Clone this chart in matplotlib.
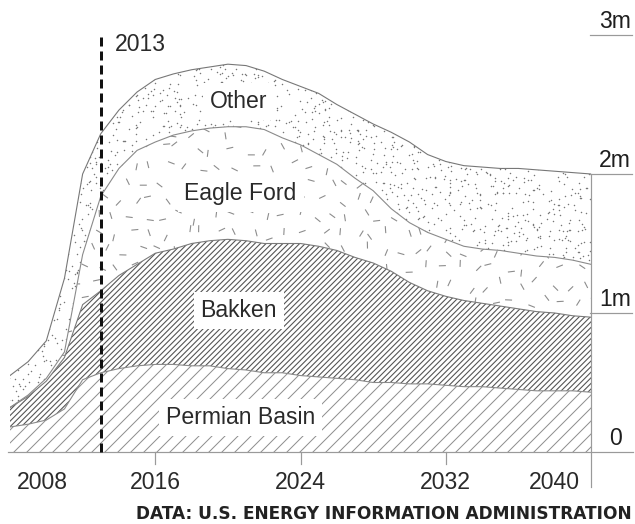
import numpy as np
import matplotlib
matplotlib.use("Agg")
import matplotlib.pyplot as plt
from matplotlib.transforms import blended_transform_factory
from matplotlib.collections import LineCollection

# ---------------- data ----------------
years = list(range(2008, 2041))
permian = [.18, .20, .23, .31, .52, .57, .60, .62, .63, .63, .62, .62, .60, .59, .57, .57, .55,
           .54, .53, .52, .50, .50, .49, .49, .48, .47, .47, .46, .45, .44, .44, .44, .43]
bakken = [.14, .20, .28, .37, .54, .59, .67, .73, .80, .83, .88, .90, .93, .93, .93, .93, .95,
          .94, .92, .88, .86, .80, .73, .67, .64, .62, .60, .59, .58, .57, .56, .54, .54]
eagle_ford = [.00, .01, .02, .04, .36, .68, .77, .82, .80, .82, .81, .81, .81, .82, .82, .76, .71,
              .66, .62, .57, .52, .45, .43, .42, .41, .39, .39, .40, .40, .40, .40, .40, .38]
other = [.23, .24, .27, .53, .58, .45, .42, .42, .45, .44, .44, .44, .45, .44, .42, .42, .42,
         .44, .43, .46, .48, .55, .58, .56, .56, .58, .59, .59, .61, .62, .62, .63, .65]
series_names = ["Permian Basin", "Bakken", "Eagle Ford", "Other"]
x_tick_years = [2008, 2016, 2024, 2032, 2040]
x_tick_labels = ["2008", "2016", "2024", "2032", "2040"]
y_tick_values = [0, 1, 2, 3]
y_tick_labels = ["0", "1m", "2m", "3m"]
marker_year = 2013
marker_label = "2013"
source_text = "DATA: U.S. ENERGY INFORMATION ADMINISTRATION"

# ---------------- layout ----------------
W, H, DPI = 635, 524, 75
def pt(px):
    return px * 72.0 / DPI

plt.rcParams["font.family"] = ["Liberation Sans", "DejaVu Sans"]
plt.rcParams["lines.scale_dashes"] = False

fig = plt.figure(figsize=(W / DPI, H / DPI), dpi=DPI)
fig.patch.set_facecolor("white")
X0, X1, Y0, Y3 = 10, 591, 452, 35
ax = fig.add_axes([X0 / W, (H - Y0) / H, (X1 - X0) / W, (Y0 - Y3) / H])
ax.set_xlim(2008, 2040)
ax.set_ylim(0, 3)
ax.axis("off")
px_per_year = (X1 - X0) / 32.0
px_per_m = (Y0 - Y3) / 3.0

def to_data(px, py):
    return (2008 + (px - X0) / px_per_year, (Y0 - py) / px_per_m)

yrs = np.array(years, dtype=float)
layers = [np.array(permian), np.array(bakken), np.array(eagle_ford), np.array(other)]
cum = np.cumsum(layers, axis=0)
bottoms = [np.zeros_like(yrs)] + [cum[i] for i in range(3)]

polys = []
for k in range(4):
    p = ax.fill_between(yrs, bottoms[k], cum[k], facecolor="white", edgecolor="white",
                        linewidth=0, zorder=1)
    polys.append(p)

def frac(v):
    return v - np.floor(v)

def diag_hatch(poly, spacing, color, lw):
    segs = []
    c = -500.0
    while c < 700:
        segs.append([to_data(c, Y0 + 20), to_data(c + 520, Y0 + 20 - 520)])
        c += spacing
    lc = LineCollection(segs, colors=color, linewidths=pt(lw), zorder=2)
    ax.add_collection(lc)
    lc.set_clip_path(poly.get_paths()[0], ax.transData)

# Permian: sparse diagonal hatch; Bakken: dense diagonal hatch
diag_hatch(polys[0], 13.0, "#8e8e8e", 1.0)
diag_hatch(polys[1], 5.6, "#555555", 1.1)

# Eagle Ford: scattered short dashes (deterministic texture)
segs = []
step = 17
for j, ypx in enumerate(np.arange(30, 455, step)):
    for i, xpx in enumerate(np.arange(0, 600, step)):
        h1 = frac(np.sin(i * 12.9898 + j * 78.233) * 43758.5453)
        h2 = frac(np.sin(i * 39.346 + j * 11.135) * 24634.6345)
        h3 = frac(np.sin(i * 73.156 + j * 52.235) * 13275.1234)
        cx = xpx + (j % 2) * step / 2 + (h1 - 0.5) * step * 0.7
        cy = ypx + (h2 - 0.5) * step * 0.7
        a = h3 * np.pi
        L = 3.5
        segs.append([to_data(cx - L * np.cos(a), cy - L * np.sin(a)),
                     to_data(cx + L * np.cos(a), cy + L * np.sin(a))])
lc = LineCollection(segs, colors="#8c8c8c", linewidths=pt(1.1), zorder=2)
ax.add_collection(lc)
lc.set_clip_path(polys[2].get_paths()[0], ax.transData)

# Other: random-looking stipple (deterministic)
dx_, dy_ = [], []
st = 5.2
for j, ypx in enumerate(np.arange(30, 455, st)):
    for i, xpx in enumerate(np.arange(0, 600, st)):
        h1 = frac(np.sin(i * 91.7 + j * 17.31) * 43758.5453)
        h2 = frac(np.sin(i * 27.13 + j * 61.77) * 24634.6345)
        h3 = frac(np.sin(i * 5.71 + j * 33.9) * 9631.17)
        if h3 < 0.45:
            continue
        px_, py_ = to_data(xpx + (h1 - 0.5) * st * 1.6, ypx + (h2 - 0.5) * st * 1.6)
        dx_.append(px_)
        dy_.append(py_)
sc = ax.scatter(dx_, dy_, s=pt(1.5) ** 2, color="#777777", linewidths=0, zorder=2)
sc.set_clip_path(polys[3].get_paths()[0], ax.transData)

# boundaries
for k, c in enumerate(["#8a8a8a", "#7a7a7a", "#8a8a8a", "#777777"]):
    ax.plot(yrs, cum[k], color=c, lw=pt(1.1), zorder=3)

# labels inside areas
label_pos = {"Other": (2020.6, 2.475), "Eagle Ford": (2020.7, 1.813),
             "Bakken": (2020.6, 0.971), "Permian Basin": (2020.7, 0.201)}
for name in series_names[::-1]:
    x, y = label_pos[name]
    ax.text(x, y, name, ha="center", va="baseline", fontsize=pt(23), color="#2a2a2a", zorder=5,
            bbox=dict(boxstyle="square,pad=0.3", facecolor="white", edgecolor="none"))

# 2013 dashed marker
ax.plot([marker_year, marker_year], [0, (Y0 - 32) / px_per_m], color="#111111", lw=pt(3),
        dashes=(pt(9), pt(5)), zorder=6, clip_on=False)
ax.annotate(marker_label, xy=(marker_year, (Y0 - 51) / px_per_m), xytext=(pt(14), 0),
            textcoords="offset points", ha="left", va="baseline", fontsize=pt(23),
            color="#2a2a2a", annotation_clip=False)

# axis lines
trans_fx = blended_transform_factory(fig.transFigure, ax.transData)
ax.plot([8 / W, 633 / W], [0, 0], color="#9a9a9a", lw=pt(1.2), transform=trans_fx,
        clip_on=False, zorder=4)
for v in y_tick_values[1:]:
    ax.plot([590 / W, 632 / W], [v, v], color="#9a9a9a", lw=pt(1.2), transform=trans_fx,
            clip_on=False, zorder=4)
ax.plot([2040, 2040], [2.0, -(487 - Y0) / px_per_m], color="#9a9a9a", lw=pt(1.2),
        clip_on=False, zorder=4)
for yr in x_tick_years[1:-1]:
    ax.plot([yr, yr], [0, -12 / px_per_m], color="#9a9a9a", lw=pt(1.2), clip_on=False, zorder=4)

# y labels (right)
for v, lab in zip(y_tick_values, y_tick_labels):
    xr = 622 if lab == "0" else 631
    ax.text(xr / W, v + 7 / px_per_m, lab, transform=trans_fx, ha="right", va="baseline",
            fontsize=pt(23), color="#1e1e1e")

# x labels
for yr, lab in zip(x_tick_years, x_tick_labels):
    if yr == x_tick_years[0]:
        ha, dx = "left", 7
    elif yr == x_tick_years[-1]:
        ha, dx = "right", -11
    else:
        ha, dx = "center", 0
    ax.annotate(lab, xy=(yr, 0), xytext=(pt(dx), -pt(37)), textcoords="offset points",
                ha=ha, va="baseline", fontsize=pt(23), color="#2a2a2a", annotation_clip=False)

# source
fig.text(632 / W, (H - 519) / H, source_text, ha="right", va="baseline",
         fontsize=pt(17.0), fontweight="bold", color="#222222", family="DejaVu Sans")

fig.savefig("out.png", dpi=DPI, facecolor="white")
